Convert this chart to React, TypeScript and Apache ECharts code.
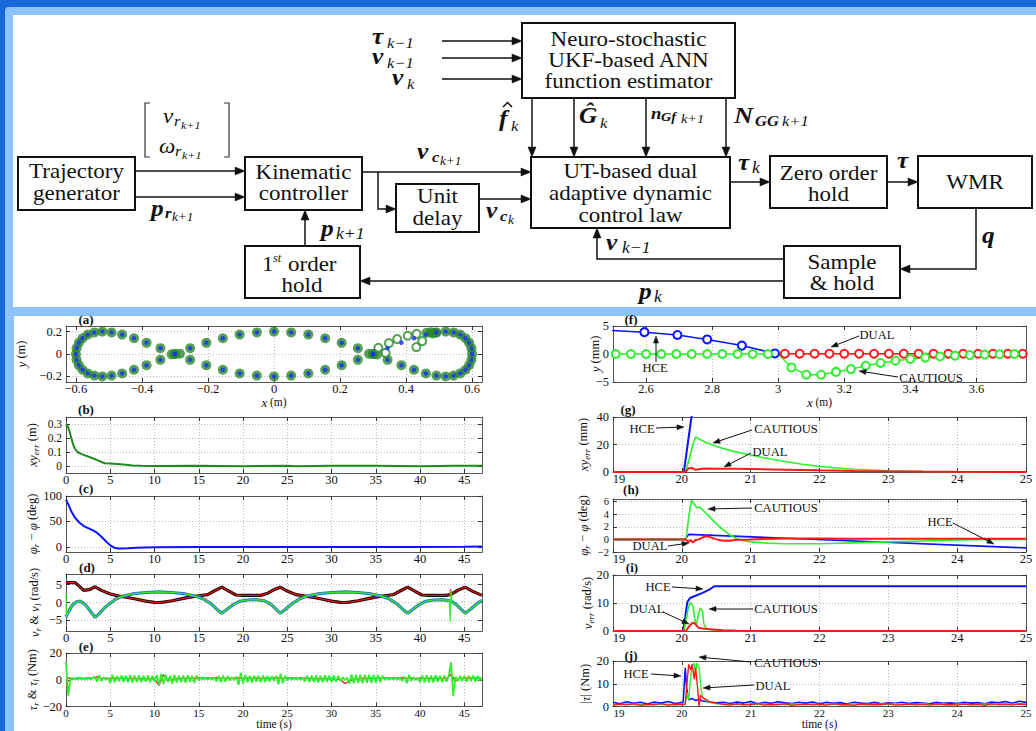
import React, { useEffect, useRef } from "react";
import * as echarts from "echarts";

const FONT = "Liberation Serif";

// ---------------- DATA ----------------
// (a) reference figure-eight path (x m, y m)
const fig8Ref: number[][] = [
  [0.600, 0], [0.598, 0.052], [0.591, 0.100], [0.580, 0.141], [0.564, 0.173], [0.544, 0.193],
  [0.520, 0.200], [0.492, 0.193], [0.460, 0.173], [0.424, 0.141], [0.386, 0.100], [0.344, 0.052],
  [0.300, 0], [0.254, -0.052], [0.205, -0.100], [0.155, -0.141], [0.104, -0.173], [0.052, -0.193],
  [0, -0.200], [-0.052, -0.193], [-0.104, -0.173], [-0.155, -0.141], [-0.205, -0.100], [-0.254, -0.052],
  [-0.300, 0], [-0.344, 0.052], [-0.386, 0.100], [-0.424, 0.141], [-0.460, 0.173], [-0.492, 0.193],
  [-0.520, 0.200], [-0.544, 0.193], [-0.564, 0.173], [-0.580, 0.141], [-0.591, 0.100], [-0.598, 0.052],
  [-0.600, 0], [-0.598, -0.052], [-0.591, -0.100], [-0.580, -0.141], [-0.564, -0.173], [-0.544, -0.193],
  [-0.520, -0.200], [-0.492, -0.193], [-0.460, -0.173], [-0.424, -0.141], [-0.386, -0.100], [-0.344, -0.052],
  [-0.300, 0], [-0.254, 0.052], [-0.205, 0.100], [-0.155, 0.141], [-0.104, 0.173], [-0.052, 0.193],
  [0, 0.200], [0.052, 0.193], [0.104, 0.173], [0.155, 0.141], [0.205, 0.100], [0.254, 0.052],
  [0.300, 0], [0.344, -0.052], [0.386, -0.100], [0.424, -0.141], [0.460, -0.173], [0.492, -0.193],
  [0.520, -0.200], [0.544, -0.193], [0.564, -0.173], [0.580, -0.141], [0.591, -0.100], [0.598, -0.052],
];
const fig8OffPathIdx = [8, 9, 10, 11];
const fig8Blobs: number[][] = [
  [-0.285, 0.003], [-0.31, -0.003], [0.288, 0.002], [0.312, -0.004],
  [0.462, 0.19], [0.476, 0.195], [0.49, 0.19], [0.48, 0.184],
];
const fig8Transient: number[][] = [
  [0.316, 0.056], [0.338, 0.01], [0.348, 0.097], [0.373, 0.133], [0.405, 0.163],
  [0.432, 0.18], [0.431, 0.062], [0.449, 0.115],
];

// (b) position error (m) vs time (s)
const bErr: number[][] = [
  [0, 0.3], [0.2, 0.285], [0.4, 0.245], [0.6, 0.2], [0.8, 0.155], [1.0, 0.125], [1.3, 0.1],
  [1.7, 0.087], [2.2, 0.074], [2.8, 0.061], [3.4, 0.046], [4.0, 0.029], [4.4, 0.02], [5, 0.018],
  [5.8, 0.015], [6.5, 0.01], [7.5, 0.004], [8.5, 0.001], [10, 0], [15, 0.001], [20, -0.001],
  [25, 0.001], [26, -0.002], [30, 0.001], [35, 0.001], [40, -0.001], [44, 0.002], [47, 0.001],
];

// (c) heading error (deg)
const cHead: number[][] = [
  [0, 93], [0.3, 82], [0.6, 70], [1, 58], [1.5, 48], [2, 41], [2.5, 37], [3, 33], [3.5, 28],
  [4, 20], [4.5, 11], [5, 3], [5.5, -2], [6, -3], [7, -2.5], [8, -1.5], [10, -0.5], [15, 0],
  [20, 0], [30, 0], [40, 0], [45, 0.5], [47, 1],
];

// (d) wheel velocities (rad/s)
const dNuR: number[][] = [
  [0, 5.6], [1, 5.6], [1.3, 5], [2, 3.4], [2.6, 3.6], [3.3, 4.4], [4, 3.4], [5, 2.4], [6, 1.8],
  [7, 1.4], [8, 0.9], [9, 0.4], [10, 0.05], [10.5, 0], [11, 0.1], [12, 0.5], [13, 1], [14, 1.5],
  [15, 1.9], [16, 2.2], [16.8, 3.3], [17.6, 4.3], [18.4, 3.2], [19.2, 2.1], [20, 2], [21, 2],
  [22, 2], [22.8, 2.6], [23.5, 3.6], [24.2, 4.3], [25, 3.2], [26, 2.2], [27, 1.8], [28, 1.4],
  [29, 0.9], [30, 0.4], [31, 0.05], [31.5, 0], [32, 0.1], [33, 0.5], [34, 1], [35, 1.5], [36, 1.9],
  [37, 2.2], [37.8, 3.3], [38.6, 4.3], [39.4, 3.2], [40.2, 2.1], [41, 2], [42, 2], [43, 2],
  [43.6, 2.4], [44.4, 3.6], [45.1, 4.3], [45.9, 3.2], [47, 2],
];
const dNuL: number[][] = [
  [0, -4], [0.3, -2.5], [0.7, -0.8], [1.2, 0.2], [1.6, 0.4], [2.2, -0.6], [2.8, -2.6], [3.3, -4.2],
  [3.8, -3], [4.4, -1.4], [5, -0.2], [5.6, 0.9], [6.4, 1.8], [7.5, 2.4], [9, 2.8], [10.5, 3],
  [12, 2.8], [13.5, 2.4], [14.6, 1.8], [15.6, 0.9], [16.4, -0.4], [17, -1.8], [17.6, -3],
  [18.2, -1.9], [18.9, -0.6], [19.6, 0.3], [20.5, 0.7], [21.5, 0.8], [22.4, 0.5], [23.2, -0.6],
  [23.7, -1.8], [24.2, -3], [24.8, -1.9], [25.5, -0.4], [26.3, 0.9], [27.2, 1.8], [28.4, 2.4],
  [30, 2.8], [31.5, 3], [33, 2.8], [34.5, 2.4], [35.6, 1.8], [36.6, 0.9], [37.4, -0.4], [38, -1.8],
  [38.6, -3], [39.2, -1.9], [39.9, -0.6], [40.6, 0.3], [41.5, 0.7], [42.5, 0.8], [43.4, 0.5],
  [44.1, -0.6], [44.6, -1.8], [45.1, -3], [45.7, -1.9], [46.4, -0.4], [47, 0.6],
];
const dGreenSpikeStart: number[][] = [[0, 2.5], [0.05, -4]];
const dGreenSpikeEnd: number[][] = [[43.3, 0.5], [43.4, -5.5], [43.5, 3.2], [43.6, 0.4]];
const dRedSpike: number[][] = [[43.35, 2], [43.45, 3.7], [43.55, 2]];

// (e) wheel torques (Nm), left sampled every 0.25 s, right every 0.5 s
const eTauL = [
  13, -12, 0.6, 0.2, 0.9, 0.3, 1.0, 0.4, 0.9, 0.3,
  1.0, 0.4, 0.9, 2.2, -1.4, 3.4, -1.0, 1.8, 0.0, 1.4,
  -2.6, 3.8, -2.0, 2.8, -1.0, 3.2, -1.6, 3.0, -1.8, 3.4,
  -2.0, 3.1, -1.6, 3.3, -1.9, 2.9, -1.3, 3.2, -2.1, 2.8,
  -1.2, 3.6, -4.0, 4.4, -3.2, 3.8, -1.6, 2.9, -3.0, 3.6,
  -2.0, 3.0, -1.8, 3.2, -2.2, 3.4, -1.5, 3.0, -2.4, 3.1,
  -0.4, 1.4, 0.2, 1.0, 0.3, 1.2, 0.1, 1.8, -1.2, 3.0,
  -1.8, 3.2, -1.5, 2.8, -0.4, 1.8, -0.2, 2.4, -3.8, 5.2,
  -2.8, 3.6, -1.8, 3.0, -2.0, 3.1, -1.5, 2.9, -1.8, 3.2,
  -1.6, 2.8, -1.2, 2.6, -0.8, 2.8, -3.4, 4.6, -2.6, 3.0,
  -0.4, 1.2, 0.2, 1.1, 0.3, 1.0, 0.2, 1.2, -1.2, 3.0,
  -1.9, 3.2, -1.6, 3.1, -2.0, 2.9, -1.8, 3.3, -1.6, 3.0,
  -1.9, 3.2, -1.5, 2.9, -0.9, 1.8, -0.2, 1.6, -3.0, 4.0,
  -2.6, 3.6, -2.3, 3.8, -2.7, 3.5, -2.2, 3.7, -2.5, 3.4,
  -2.1, 3.6, -1.8, 3.0, 0.1, 1.1, 0.3, 1.0, 0.2, 1.2,
  0.1, 1.4, -1.0, 2.6, -2.6, 3.6, -0.8, 1.8, -0.1, 1.4,
  -1.8, 3.2, -2.1, 3.4, -1.8, 3.1, -2.0, 3.3, -1.6, 3.0,
  -1.9, 3.2, -1.5, 2.9, 13, -12, 2.4, -1.0, 2.8, -1.2,
  3.0, -1.4, 2.9, -1.0, 3.1, -1.5, 2.8, -0.6, 1.4,
];
const eTauR = [
  1.0, 1.2, 0.9, 1.3, 1.0, 1.4, 1.1, 2.2, 1.0, 1.2,
  0.8, 1.1, 0.9, 1.2, 0.8, 1.0, 0.7, 0.9, 0.6, 0.8,
  0.3, -4.2, 3.8, -0.8, 0.5, 0.8, 0.9, 1.0, 1.1, 1.0,
  1.3, 1.2, 1.4, 1.1, 1.5, 1.2, 1.0, 1.2, 1.1, 1.3,
  1.0, 1.2, 0.9, 1.1, 1.0, 1.2, 1.1, 1.3, 1.4, 1.0,
  1.2, 1.4, 1.1, 1.3, 1.0, 0.9, 0.8, 0.9, 0.7, 0.8,
  0.6, 0.5, 0.2, -2.8, -1.0, 0.5, 0.8, 0.9, 1.0, 1.1,
  1.0, 1.2, 1.4, 1.2, 1.3, 1.1, 1.5, 1.0, 1.2, 1.0,
  1.1, 0.9, 1.2, 1.0, 1.1, 0.9, 1.0, 4.0, -1.0, 1.2,
  1.0, 1.3, 1.1, 1.2, 1.0,
];

// (f) lateral deviation y (mm) vs x (m)
const fHce: number[][] = [[2.49, 4.2], [2.595, 3.9], [2.695, 3.4], [2.785, 2.6], [2.89, 1.5], [2.99, 0.1], [3.0, 0]];
const fCautious: number[][] = [
  [2.508, 0], [2.554, 0], [2.6, 0], [2.646, 0], [2.692, 0], [2.738, 0], [2.785, 0], [2.831, 0],
  [2.877, 0], [2.923, 0], [2.969, 0], [3.0, 0], [3.04, -2.4], [3.085, -3.7], [3.13, -3.7],
  [3.175, -3.2], [3.22, -2.7], [3.265, -2.1], [3.31, -1.6], [3.355, -1.2], [3.4, -0.9],
  [3.445, -0.65], [3.49, -0.45], [3.535, -0.3], [3.58, -0.2], [3.625, -0.1], [3.67, -0.05],
  [3.715, 0], [3.75, 0],
];
const fDual: number[][] = [
  [3.0, 0], [3.02, 0.05], [3.065, 0.05], [3.11, 0.05], [3.155, 0.05], [3.2, 0.05], [3.245, 0.05],
  [3.29, 0.05], [3.335, 0.05], [3.38, 0.05], [3.425, 0.05], [3.47, 0.05], [3.515, 0.05],
  [3.56, 0.05], [3.605, 0.05], [3.65, 0.05], [3.695, 0.05], [3.74, 0.05],
];

// (g) position error (mm) vs time (s)
const gHce: number[][] = [[19, 0], [20.03, 0], [20.09, 22], [20.14, 40], [20.16, 46]];
const gCautious: number[][] = [
  [19, 0], [20.05, 0], [20.1, 8], [20.16, 20], [20.2, 25.5], [20.25, 24], [20.35, 21.5],
  [20.5, 18.5], [20.75, 15], [21, 12.3], [21.25, 9.8], [21.5, 7.6], [21.75, 5.6], [22, 4.1],
  [22.25, 2.9], [22.5, 2], [22.75, 1.4], [23, 0.9], [23.5, 0.4], [24, 0.2], [24.5, 0.1], [25, 0.05],
];
const gDual: number[][] = [
  [19, 0], [20.05, 0], [20.1, 2.8], [20.15, 2.9], [20.2, 1.6], [20.27, 2.2], [20.35, 2.5],
  [20.5, 2.4], [20.75, 2.3], [21, 2.1], [21.5, 1.7], [22, 1.2], [22.5, 0.8], [23, 0.5],
  [23.5, 0.3], [24, 0.15], [25, 0.05],
];

// (h) heading error (deg)
const hHce: number[][] = [[19, 0], [20.05, 0], [20.1, 0.8], [25, -1.35]];
const hCautious: number[][] = [
  [19, 0], [20.06, 0], [20.1, 3.5], [20.14, 6.2], [20.18, 5.6], [20.22, 5.0], [20.26, 5.1],
  [20.3, 4.7], [20.4, 3.6], [20.5, 2.5], [20.6, 1.5], [20.7, 0.7], [20.8, 0.1], [20.9, -0.2],
  [21, -0.4], [21.25, -0.6], [21.5, -0.7], [22, -0.7], [22.5, -0.55], [23, -0.4], [23.5, -0.25],
  [24, -0.1], [24.5, 0], [25, 0],
];
const hDual: number[][] = [
  [19, 0], [20.05, 0], [20.1, -0.4], [20.13, -0.1], [20.16, -0.5], [20.2, -0.1], [20.25, 0],
  [20.3, 0.3], [20.35, 0.5], [20.4, 0.4], [20.5, 0], [20.6, -0.2], [20.7, -0.2], [20.8, -0.05],
  [21, 0], [21.5, 0.15], [22, 0.15], [22.5, 0.1], [23, 0.1], [24, 0.1], [25, 0.1],
];

// (i) velocity error (rad/s)
const iHce: number[][] = [
  [19, 0], [20.02, 0], [20.05, 5], [20.08, 10.3], [20.12, 11.8], [20.2, 12.6], [20.3, 13.6],
  [20.4, 14.8], [20.47, 16], [25, 16],
];
const iCautious: number[][] = [
  [19, 0], [20.03, 0], [20.06, 4], [20.1, 9], [20.13, 10.2], [20.16, 9], [20.19, 4], [20.21, 2],
  [20.24, 6], [20.27, 8.2], [20.3, 7], [20.32, 2.5], [20.35, 1], [20.45, 0.4], [20.6, 0.2],
  [21, 0], [25, 0],
];
const iDual: number[][] = [
  [19, 0], [20.06, 0], [20.1, 1.5], [20.14, 2.6], [20.17, 3], [20.2, 2.4], [20.24, 1.2],
  [20.3, 0.9], [20.4, 0.6], [20.6, 0.3], [20.8, 0.1], [21.2, 0], [25, 0],
];

// (j) torque magnitude (Nm): sampled 19.0-20.0 and 20.6-25.0 every 0.1 s, transient listed
const jBluePre = [1.8, 1.2, 2.1, 1.4, 1.9, 1.1, 2.0, 1.5, 2.2, 1.3, 1.7];
const jBlueTrans: number[][] = [[20.02, 2], [20.05, 17], [20.07, 8], [20.1, 3], [20.15, 3.5], [20.2, 2.6], [20.25, 3.2], [20.3, 2.4], [20.4, 2.0], [20.5, 1.6]];
const jBluePost = [
  1.9, 1.3, 2.0, 1.5, 2.2, 1.2, 1.8, 1.4, 2.1, 1.6, 1.3, 1.9, 1.5, 2.0, 1.2, 1.8, 1.4, 1.7, 1.1, 1.9,
  1.5, 1.3, 1.8, 1.2, 1.6, 1.4, 1.9, 1.3, 1.7, 1.5, 1.2, 1.8, 1.4, 1.6, 1.3, 1.9, 1.5, 1.7, 1.2, 2.0,
  1.6, 2.2, 1.4, 2.3, 1.8,
];
const jRedPre = [0.6, 1.1, 0.7, 1.2, 0.5, 1.0, 0.8, 1.3, 0.6, 1.0, 0.9];
const jRedTrans: number[][] = [[20.05, 1], [20.08, 12], [20.1, 18.5], [20.13, 16], [20.15, 18.5], [20.18, 12], [20.2, 17], [20.23, 8], [20.25, 0], [20.27, 5], [20.3, 4], [20.35, 3], [20.4, 2], [20.5, 1.5]];
const jRedPost = [
  1.0, 0.6, 1.2, 0.7, 0.9, 1.3, 0.6, 1.0, 0.8, 1.2, 0.5, 0.9, 1.1, 0.7, 1.0, 0.6, 1.2, 0.8, 0.9, 0.5,
  1.1, 0.7, 1.0, 0.8, 1.3, 0.6, 0.9, 1.1, 0.7, 1.0, 0.6, 1.2, 0.8, 0.9, 0.6, 1.1, 0.7, 1.0, 0.5, 1.2,
  0.8, 1.0, 0.7, 1.1, 0.9,
];
const jGreenPre = [1.0, 0.7, 1.3, 0.8, 1.1, 0.6, 1.2, 0.9, 1.0, 0.7, 1.1];
const jGreenTrans: number[][] = [[20.05, 1.5], [20.08, 6], [20.1, 3], [20.12, 10], [20.15, 18], [20.18, 19], [20.2, 15], [20.22, 19], [20.25, 17], [20.28, 8], [20.3, 4], [20.35, 2.5], [20.4, 1.8], [20.5, 1.2]];
const jGreenPost = [
  1.2, 0.8, 1.1, 0.7, 1.3, 0.9, 1.0, 0.6, 1.2, 0.8, 1.1, 0.9, 0.7, 1.2, 0.8, 1.0, 1.1, 0.7, 0.9, 1.2,
  0.8, 1.0, 0.6, 1.1, 0.9, 1.2, 0.7, 1.0, 0.8, 1.3, 0.9, 0.7, 1.1, 0.8, 1.0, 1.2, 0.7, 0.9, 1.1, 0.8,
  1.0, 1.2, 0.9, 1.4, 1.0,
];

// tick labels
const ticksAx = [-0.6, -0.4, -0.2, 0, 0.2, 0.4, 0.6];
const ticksAy = [-0.2, 0, 0.2];
const ticksTimeL = [0, 5, 10, 15, 20, 25, 30, 35, 40, 45];
const ticksBy = [0, 0.1, 0.2, 0.3];
const ticksCy = [0, 50, 100];
const ticksDy = [-5, 0, 5];
const ticksEy = [-20, 0, 20];
const ticksFx = [2.6, 2.8, 3, 3.2, 3.4, 3.6];
const ticksFy = [-5, 0, 5];
const ticksTimeR = [19, 20, 21, 22, 23, 24, 25];
const ticksGy = [0, 20, 40];
const ticksHy = [-2, 0, 2, 4, 6];
const ticksIy = [0, 10, 20];
const ticksJy = [0, 10, 20];

// ---------------- HELPERS ----------------
const seq = (t0: number, dt: number, vals: number[]) =>
  vals.map((v, k) => [Math.round((t0 + k * dt) * 1000) / 1000, v]);

const fmt = (v: number) => {
  const r = Math.round(v * 1000) / 1000;
  return r < 0 ? "\u2212" + String(-r) : String(r);
};
// the first time label of the right column is nudged right so it clears the y label "0"
const fmtTimeR = (v: number) => (Math.abs(v - 19) < 1e-6 ? "{m|19}" : fmt(v));

const RICH = {
  i: { fontStyle: "italic", fontFamily: FONT, fontSize: 13, lineHeight: 16, color: "#111" },
  s: { fontStyle: "italic", fontFamily: FONT, fontSize: 9, lineHeight: 10, verticalAlign: "bottom", color: "#111" },
};

type Panel = {
  left: number; top: number; width: number; height: number;
  x: number[]; xt: number[]; y: number[]; yt: number[];
  yName: string; yGap: number; xName?: string; xGap?: number; yfs?: number; xfs?: number; xfmt?: (v: number) => string;
};

const LX = 66, LW = 416, RX = 613, RW = 413;
const panels: Panel[] = [
  { left: LX, top: 326, width: LW, height: 56, x: [-0.63, 0.63], xt: ticksAx, y: [-0.25, 0.25], yt: ticksAy, yName: "{i|y} (m)", yGap: 37, xName: "{i|x} (m)", xGap: 12 },
  { left: LX, top: 417, width: LW, height: 56, x: [0, 47], xt: ticksTimeL, y: [-0.05, 0.35], yt: ticksBy, yName: "{i|xy}{s|err} (m)", yGap: 26, yfs: 11.5 },
  { left: LX, top: 496, width: LW, height: 56, x: [0, 47], xt: ticksTimeL, y: [-10, 100], yt: ticksCy, yName: "{i|φ}{s|r} − {i|φ} (deg)", yGap: 26 },
  { left: LX, top: 574, width: LW, height: 57, x: [0, 47], xt: ticksTimeL, y: [-8, 8], yt: ticksDy, yName: "{i|ν}{s|r} & {i|ν}{s|l} (rad/s)", yGap: 24 },
  { left: LX, top: 653, width: LW, height: 57, x: [0, 47], xt: ticksTimeL, y: [-20, 20], yt: ticksEy, yName: "{i|τ}{s|r} & {i|τ}{s|l} (Nm)", yGap: 26, xName: "time (s)", xGap: 12, xfs: 11 },
  { left: RX, top: 326, width: RW, height: 56, x: [2.5, 3.75], xt: ticksFx, y: [-5, 5], yt: ticksFy, yName: "{i|y} (mm)", yGap: 10, xName: "{i|x} (m)", xGap: 12 },
  { left: RX, top: 417, width: RW, height: 55, x: [19, 25], xt: ticksTimeR, y: [0, 40], yt: ticksGy, yName: "{i|xy}{s|err} (mm)", yGap: 22, xfmt: fmtTimeR },
  { left: RX, top: 499, width: RW, height: 53, x: [19, 25], xt: ticksTimeR, y: [-2, 6.4], yt: ticksHy, yName: "{i|φ}{s|r} − {i|φ} (deg)", yGap: 22, yfs: 10.5, xfmt: fmtTimeR },
  { left: RX, top: 575, width: RW, height: 56, x: [19, 25], xt: ticksTimeR, y: [0, 20], yt: ticksIy, yName: "{i|ν}{s|err} (rad/s)", yGap: 18, xfmt: fmtTimeR },
  { left: RX, top: 661, width: RW, height: 48, x: [19, 25], xt: ticksTimeR, y: [0, 20], yt: ticksJy, yName: "|{i|τ}| (Nm)", yGap: 20, xName: "time (s)", xGap: 12, xfs: 11, xfmt: fmtTimeR },
];

const AX_COLOR = "#555";
const labelStyle = { fontFamily: FONT, fontSize: 12.5, color: "#111" };

function buildAxes() {
  const xAxis: any[] = [];
  const yAxis: any[] = [];
  panels.forEach((p, i) => {
    const common = { type: "value", gridIndex: i, nameMoveOverlap: false, axisLine: { show: true, onZero: false, lineStyle: { color: AX_COLOR, width: 1 } } };
    const xfs = p.xfs || 12.5;
    xAxis.push({
      ...common, position: "bottom", min: p.x[0], max: p.x[1],
      axisTick: { show: true, inside: true, length: 4, customValues: p.xt, lineStyle: { color: "#333" } },
      axisLabel: {
        show: true, customValues: p.xt, formatter: p.xfmt || fmt, margin: 1, ...labelStyle, fontSize: xfs, lineHeight: 11,
        rich: { m: { fontFamily: FONT, fontSize: xfs, color: "#111", lineHeight: 11, padding: [0, 0, 0, 12] } },
      },
      splitLine: { show: true, lineStyle: { type: [1, 2], color: "#bdbdbd", width: 1 } },
      name: p.xName || "", nameLocation: "middle", nameGap: p.xGap || 0,
      nameTextStyle: { ...labelStyle, fontSize: 11.5, lineHeight: 11, rich: RICH },
    });
    xAxis.push({
      ...common, position: "top", min: p.x[0], max: p.x[1],
      axisTick: { show: true, inside: true, length: 4, customValues: p.xt, lineStyle: { color: "#333" } },
      axisLabel: { show: false }, splitLine: { show: false },
    });
    yAxis.push({
      ...common, position: "left", min: p.y[0], max: p.y[1],
      axisTick: { show: true, inside: true, length: 4, customValues: p.yt, lineStyle: { color: "#333" } },
      axisLabel: { show: true, customValues: p.yt, formatter: fmt, margin: 4, ...labelStyle, fontSize: p.yfs || 12.5, lineHeight: 11 },
      splitLine: { show: true, lineStyle: { type: [1, 2], color: "#bdbdbd", width: 1 } },
      name: p.yName, nameLocation: "middle", nameRotate: 90, nameGap: p.yGap,
      nameTextStyle: { ...labelStyle, fontSize: 12.5, lineHeight: 16, rich: RICH },
    });
    yAxis.push({
      ...common, position: "right", min: p.y[0], max: p.y[1],
      axisTick: { show: true, inside: true, length: 4, customValues: p.yt, lineStyle: { color: "#333" } },
      axisLabel: { show: false }, splitLine: { show: false },
    });
  });
  return { xAxis, yAxis };
}

const ln = (gi: number, data: any[], color: string, width: number, extra: any = {}) => ({
  type: "line", xAxisIndex: 2 * gi, yAxisIndex: 2 * gi, data, symbol: "none",
  lineStyle: { color, width }, itemStyle: { color }, silent: true, z: 3, ...extra,
});
const sc = (gi: number, data: any[], color: string, size: number, extra: any = {}) => ({
  type: "scatter", xAxisIndex: 2 * gi, yAxisIndex: 2 * gi, data, symbol: "circle", symbolSize: size,
  itemStyle: { color }, silent: true, z: 3, ...extra,
});
const withMarkers = (data: number[][], skip: number[]) =>
  data.map((d, k) => (skip.indexOf(k) >= 0 ? { value: d, symbol: "none" } : { value: d }));

const BLUE = "#0a14ff", RED = "#ff1a1a", GREEN = "#2df22d", DGREEN = "#2a8a2a";

function buildSeries() {
  const fig8Actual = fig8Ref.filter((_, k) => fig8OffPathIdx.indexOf(k) < 0).concat(fig8Blobs);
  const mk = (c: string) => ({ symbol: "emptyCircle", symbolSize: 8, showSymbol: true, itemStyle: { color: c, borderWidth: 1.5 } });
  return [
    // (a)
    sc(0, fig8Actual, DGREEN, 10),
    sc(0, fig8Transient, DGREEN, 8, { symbol: "emptyCircle", itemStyle: { color: DGREEN, borderWidth: 2 } }),
    sc(0, fig8Ref, "#1a2cff", 4.5, { z: 4 }),
    // (b)
    ln(1, bErr, "#1f8a1f", 2),
    // (c)
    ln(2, cHead, BLUE, 2),
    // (d)
    ln(3, dNuR, "#2a0505", 3.2),
    ln(3, dNuR, RED, 1),
    ln(3, dRedSpike, RED, 1),
    ln(3, dNuL, "#2f78b8", 3.2),
    ln(3, dNuL, GREEN, 1.2),
    ln(3, dGreenSpikeStart, GREEN, 1.2),
    ln(3, dGreenSpikeEnd, GREEN, 1.2),
    // (e)
    ln(4, seq(0, 0.5, eTauR), RED, 1.4),
    ln(4, seq(0, 0.25, eTauL), GREEN, 1.8),
    // (f)
    ln(5, withMarkers(fHce, [0, fHce.length - 1]), BLUE, 1.5, mk(BLUE)),
    ln(5, withMarkers(fDual, [0]), RED, 1.5, mk(RED)),
    ln(5, withMarkers(fCautious, [11, fCautious.length - 1]), GREEN, 1.5, mk(GREEN)),
    // (g)
    ln(6, gHce, BLUE, 2),
    ln(6, gCautious, GREEN, 1.6),
    ln(6, gDual, RED, 2),
    // (h)
    ln(7, hHce, BLUE, 1.6),
    ln(7, hCautious, GREEN, 1.6),
    ln(7, hDual, RED, 2),
    // (i)
    ln(8, iHce, BLUE, 2),
    ln(8, iCautious, GREEN, 1.6),
    ln(8, iDual, RED, 2),
    // (j)
    ln(9, [...seq(19, 0.1, jBluePre), ...jBlueTrans, ...seq(20.6, 0.1, jBluePost)], BLUE, 1.6),
    ln(9, [...seq(19, 0.1, jGreenPre), ...jGreenTrans, ...seq(20.6, 0.1, jGreenPost)], GREEN, 1.4),
    ln(9, [...seq(19, 0.1, jRedPre), ...jRedTrans, ...seq(20.6, 0.1, jRedPost)], RED, 1.4),
  ];
}

// ---------------- GRAPHICS (frame, block diagram, annotations) ----------------
const INK = "#111";
type F = { size: number; italic?: boolean; bold?: boolean; lh?: number; sx?: number };
const txt = (x: number, y: number, text: string, f: F, align = "center", z = 20) => ({
  type: "text", x, y, z, silent: true, scaleX: f.sx || 1,
  style: {
    text, fill: INK, fontFamily: FONT, fontSize: f.size,
    fontStyle: f.italic ? "italic" : "normal", fontWeight: f.bold ? "bold" : "normal",
    lineHeight: f.lh || Math.round(f.size * 1.1),
    align, verticalAlign: "middle", textAlign: align, textVerticalAlign: "middle",
  },
});
const mt = (x: number, y: number, s: string, size: number, bold = true) =>
  txt(x, y, s, { size, italic: true, bold, lh: Math.round(size * 0.75), sx: 1.1 }, "left");

function arrow(pts: number[][], head = 10, half = 4, width = 1.5, z = 8) {
  const n = pts.length;
  const [x2, y2] = pts[n - 1];
  const [x1, y1] = pts[n - 2];
  const dx = x2 - x1, dy = y2 - y1, L = Math.hypot(dx, dy);
  const ux = dx / L, uy = dy / L;
  const bx = x2 - ux * head, by = y2 - uy * head;
  return [
    { type: "polyline", z, silent: true, shape: { points: [...pts.slice(0, n - 1), [bx, by]] }, style: { stroke: INK, lineWidth: width, fill: "none" } },
    { type: "polygon", z, silent: true, shape: { points: [[x2, y2], [bx - uy * half, by + ux * half], [bx + uy * half, by - ux * half]] }, style: { fill: INK, stroke: INK, lineWidth: 0.5 } },
  ];
}

function buildGraphics() {
  const g: any[] = [];
  // frame
  g.push({ type: "rect", z: -10, silent: true, shape: { x: 0, y: 0, width: 1036, height: 731 }, style: { fill: "#1769d9" } });
  g.push({ type: "rect", z: -9, silent: true, shape: { x: 5, y: 7, width: 1031, height: 724, r: [4, 0, 0, 0] }, style: { fill: "#8cc3f9" } });
  g.push({ type: "rect", z: -8, silent: true, shape: { x: 13, y: 15, width: 1023, height: 292 }, style: { fill: "#ffffff" } });
  g.push({ type: "rect", z: -8, silent: true, shape: { x: 14, y: 316, width: 1022, height: 415 }, style: { fill: "#ffffff" } });

  // boxes
  const BOXF: F = { size: 20, sx: 1.15 };
  const boxes: [number, number, number, number, string[], number[]][] = [
    [522, 23, 213, 75, ["Neuro-stochastic", "UKF-based ANN", "function estimator"], [40, 61, 82]],
    [531, 157, 199, 71, ["UT-based dual", "adaptive dynamic", "control law"], [172, 194, 216]],
    [18, 157, 117, 53, ["Trajectory", "generator"], [172, 194]],
    [245, 157, 117, 53, ["Kinematic", "controller"], [173, 194]],
    [396, 184, 83, 48, ["Unit", "delay"], [197, 219]],
    [770, 156, 117, 52, ["Zero order", "hold"], [174, 195]],
    [918, 156, 114, 52, ["WMR"], [183]],
    [784, 246, 116, 52, ["Sample", "& hold"], [263, 284]],
    [245, 246, 115, 52, [], []],
  ];
  boxes.forEach(([x, y, w, h, lines, ys]) => {
    g.push({ type: "rect", z: 5, silent: true, shape: { x, y, width: w, height: h }, style: { fill: "#fff", stroke: INK, lineWidth: 2 } });
    lines.forEach((l, k) => g.push(txt(x + w / 2, ys[k], l, BOXF)));
  });
  g.push(txt(262, 265, "1", BOXF, "left"));
  g.push(txt(273, 258, "st", { size: 12, italic: true }, "left"));
  g.push(txt(288, 265, "order", BOXF, "left"));
  g.push(txt(302, 286, "hold", BOXF));

  // arrows
  const A = [
    [[442, 41], [522, 41]], [[442, 58], [522, 58]], [[442, 79], [522, 79]],
    [[532, 98], [532, 157]], [[574, 98], [574, 157]], [[646, 98], [646, 157]], [[726, 98], [726, 157]],
    [[135, 171], [245, 171]], [[135, 197], [245, 197]],
    [[362, 172], [531, 172]],
    [[378, 172], [378, 209], [396, 209]],
    [[479, 199], [531, 199]],
    [[730, 182], [770, 182]],
    [[887, 182], [918, 182]],
    [[976, 208], [976, 269], [900, 269]],
    [[784, 259], [597, 259], [597, 228]],
    [[784, 281], [360, 281]],
    [[305, 246], [305, 210]],
  ];
  A.forEach((p) => g.push(...arrow(p)));

  // bracket
  g.push({ type: "polyline", z: 6, silent: true, shape: { points: [[150, 103], [145, 103], [145, 157], [150, 157]] }, style: { stroke: "#333", lineWidth: 1.2, fill: "none" } });
  g.push({ type: "polyline", z: 6, silent: true, shape: { points: [[224, 103], [229, 103], [229, 157], [224, 157]] }, style: { stroke: "#333", lineWidth: 1.2, fill: "none" } });

  // math labels
  g.push(mt(372, 36, "τ", 23), mt(387, 43, "k−1", 15, false));
  g.push(mt(372, 56, "ν", 23), mt(387, 63, "k−1", 15, false));
  g.push(mt(392, 77, "ν", 23), mt(407, 84, "k", 15, false));
  g.push(mt(499, 118, "f", 23), mt(511, 126, "k", 15, false));
  g.push({ type: "polyline", z: 20, silent: true, shape: { points: [[503, 107], [507.5, 102.5], [512, 107]] }, style: { stroke: INK, lineWidth: 1.5, fill: "none" } });
  g.push(mt(579, 115, "Ĝ", 23), mt(600, 123, "k", 15, false));
  g.push(mt(651, 113, "n", 17), mt(661, 117, "Gf", 13), mt(681, 119, "k+1", 13, false));
  g.push(mt(734, 115, "N", 24), mt(755, 121, "GG", 15), mt(782, 121, "k+1", 15, false));
  g.push(mt(417, 151, "ν", 23), mt(432, 157, "c", 15), mt(440, 161, "k+1", 12, false));
  g.push(mt(151, 208, "p", 23), mt(165, 213, "r", 15), mt(172, 217, "k+1", 12, false));
  g.push(mt(163, 116, "v", 21, false), mt(174, 121, "r", 15, false), mt(181, 126, "k+1", 11, false));
  g.push(mt(159, 146, "ω", 21, false), mt(175, 151, "r", 15, false), mt(182, 156, "k+1", 11, false));
  g.push(mt(486, 210, "ν", 23), mt(500, 216, "c", 15), mt(508, 220, "k", 12, false));
  g.push(mt(321, 228, "p", 23), mt(336, 234, "k+1", 16, false));
  g.push(mt(738, 162, "τ", 23), mt(752, 168, "k", 16, false));
  g.push(mt(897, 160, "τ", 23));
  g.push(mt(982, 235, "q", 23));
  g.push(mt(606, 242, "ν", 23), mt(622, 248, "k−1", 16, false));
  g.push(mt(639, 291, "p", 23), mt(654, 297, "k", 16, false));

  // panel titles
  const TF: F = { size: 13, bold: true };
  const titles: [string, number, number][] = [
    ["(a)", 86, 319], ["(b)", 86, 409], ["(c)", 86, 488], ["(d)", 87, 567], ["(e)", 86, 646],
    ["(f)", 631, 319], ["(g)", 628, 409], ["(h)", 631, 489], ["(i)", 632, 567], ["(j)", 631, 655],
  ];
  titles.forEach(([t, x, y]) => g.push(txt(x, y, t, TF, "center", 30)));

  // annotations
  const AF: F = { size: 12, sx: 1.05 };
  const notes: [string, number, number, number[][]][] = [
    ["DUAL", 877, 335, [[859, 336], [831, 347]]],
    ["HCE", 655, 368, [[656, 362], [656, 336]]],
    ["CAUTIOUS", 931, 378, [[898, 377], [859, 371]]],
    ["HCE", 642, 429, [[656, 428], [684, 427]]],
    ["CAUTIOUS", 786, 429, [[752, 430], [713, 443]]],
    ["DUAL", 770, 452, [[751, 453], [724, 467]]],
    ["CAUTIOUS", 786, 508, [[752, 508], [708, 509]]],
    ["HCE", 940, 522, [[953, 523], [994, 544]]],
    ["DUAL", 650, 546, [[668, 546], [689, 543]]],
    ["HCE", 658, 587, [[672, 587], [703, 589]]],
    ["DUAL", 647, 609, [[663, 612], [689, 624]]],
    ["CAUTIOUS", 786, 609, [[753, 609], [709, 609]]],
    ["CAUTIOUS", 786, 663, [[751, 662], [699, 657]]],
    ["HCE", 636, 674, [[651, 674], [681, 676]]],
    ["DUAL", 773, 686, [[754, 685], [703, 688]]],
  ];
  notes.forEach(([t, x, y, a]) => {
    g.push(txt(x, y, t, AF, "center", 30));
    g.push(...arrow(a, 7, 2.5, 1, 30));
  });
  return g;
}

function buildOption() {
  const { xAxis, yAxis } = buildAxes();
  return {
    animation: false,
    backgroundColor: "#ffffff",
    grid: panels.map((p) => ({ left: p.left, top: p.top, width: p.width, height: p.height, containLabel: false })),
    xAxis,
    yAxis,
    series: buildSeries(),
    graphic: { elements: buildGraphics() },
  };
}

export default function App() {
  const ref = useRef<HTMLDivElement>(null);
  useEffect(() => {
    const chart = echarts.init(ref.current!, null, { renderer: "svg" });
    chart.setOption(buildOption() as any);
    return () => chart.dispose();
  }, []);
  return <div ref={ref} style={{ position: "absolute", left: 0, top: 0, width: 1036, height: 731 }} />;
}
